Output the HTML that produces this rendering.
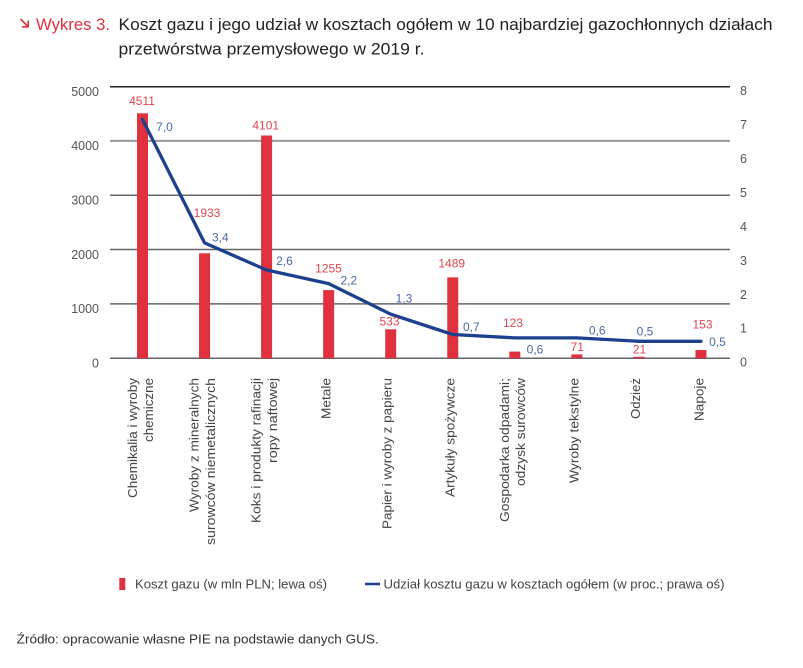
<!DOCTYPE html>
<html><head><meta charset="utf-8"><style>
html,body{margin:0;padding:0;background:#fff;}
svg{display:block;font-family:"Liberation Sans",sans-serif;}
</style></head><body>
<svg width="803" height="668" viewBox="0 0 803 668" xmlns="http://www.w3.org/2000/svg">
<!-- Title -->
<g stroke="#e0313f" stroke-width="1.6" fill="none" stroke-linecap="round" stroke-linejoin="round">
<line x1="21" y1="19.5" x2="28" y2="26.5"/><polyline points="22.5,26.8 28.2,26.8 28.2,21"/>
</g>
<text x="36" y="30" font-size="16.5" fill="#e0313f" textLength="74" lengthAdjust="spacingAndGlyphs">Wykres 3.</text>
<text x="118.5" y="30" font-size="16.5" fill="#222" textLength="654" lengthAdjust="spacingAndGlyphs">Koszt gazu i jego udział w kosztach ogółem w 10 najbardziej gazochłonnych działach</text>
<text x="118.5" y="54.5" font-size="16.5" fill="#222" textLength="306" lengthAdjust="spacingAndGlyphs">przetwórstwa przemysłowego w 2019 r.</text>

<!-- Gridlines -->
<g stroke-width="1.5">
<line x1="110" y1="86.7" x2="730" y2="86.7" stroke="#222"/>
<line x1="110" y1="140.9" x2="730" y2="140.9" stroke="#999" stroke-width="2"/>
<line x1="110" y1="195.2" x2="730" y2="195.2" stroke="#666"/>
<line x1="110" y1="249.5" x2="730" y2="249.5" stroke="#666"/>
<line x1="110" y1="303.9" x2="730" y2="303.9" stroke="#666"/>
<line x1="110" y1="358.3" x2="730" y2="358.3" stroke="#666"/>
</g>

<!-- Left axis labels -->
<g font-size="12.5" fill="#555" text-anchor="end">
<text x="99" y="96">5000</text>
<text x="99" y="150.2">4000</text>
<text x="99" y="204.5">3000</text>
<text x="99" y="258.8">2000</text>
<text x="99" y="313.2">1000</text>
<text x="99" y="367.6">0</text>
</g>
<!-- Right axis labels -->
<g font-size="12.5" fill="#555">
<text x="740" y="95">8</text>
<text x="740" y="129">7</text>
<text x="740" y="163">6</text>
<text x="740" y="196.9">5</text>
<text x="740" y="230.8">4</text>
<text x="740" y="264.8">3</text>
<text x="740" y="298.8">2</text>
<text x="740" y="332.7">1</text>
<text x="740" y="366.7">0</text>
</g>

<!-- Bars -->
<g fill="#e0313f">
<rect x="137" y="113.3" width="11" height="245"/>
<rect x="199.05" y="253.3" width="11" height="105"/>
<rect x="261.1" y="135.5" width="11" height="222.8"/>
<rect x="323.15" y="290.1" width="11" height="68.2"/>
<rect x="385.2" y="329.3" width="11" height="29"/>
<rect x="447.25" y="277.4" width="11" height="80.9"/>
<rect x="509.3" y="351.6" width="11" height="6.7"/>
<rect x="571.35" y="354.4" width="11" height="3.9"/>
<rect x="633.4" y="356.8" width="11" height="1.5"/>
<rect x="695.45" y="350" width="11" height="8.3"/>
</g>

<!-- Line -->
<polyline fill="none" stroke="#1c3f8e" stroke-width="3.3" stroke-linejoin="round" stroke-linecap="round"
points="142.5,119.5 204.55,242.9 266.6,270.0 328.65,283.6 390.7,314.2 452.75,334.5 514.8,337.9 576.85,337.9 638.9,341.3 700.95,341.3"/>

<!-- Data labels (bars) -->
<g font-size="12" fill="#e0444f" text-anchor="middle">
<text x="142" y="105">4511</text>
<text x="265.7" y="129.3">4101</text>
<text x="207" y="217">1933</text>
<text x="328.5" y="272.6">1255</text>
<text x="389.5" y="325.3">533</text>
<text x="451.7" y="267.6">1489</text>
<text x="513" y="327">123</text>
<text x="577.2" y="351">71</text>
<text x="639.5" y="353.6">21</text>
<text x="702.5" y="328.6">153</text>
</g>
<!-- Data labels (line) -->
<g font-size="12" fill="#4a68a6" text-anchor="middle">
<text x="164.5" y="131">7,0</text>
<text x="220.3" y="241.6">3,4</text>
<text x="284.5" y="265">2,6</text>
<text x="348.8" y="284.3">2,2</text>
<text x="404" y="302.6">1,3</text>
<text x="471.3" y="331">0,7</text>
<text x="535" y="353.3">0,6</text>
<text x="597.2" y="334.3">0,6</text>
<text x="645" y="335.3">0,5</text>
<text x="717.5" y="346">0,5</text>
</g>

<!-- Category labels (rotated) -->
<g font-size="13" fill="#444" text-anchor="end" lengthAdjust="spacingAndGlyphs">
<text transform="translate(137,378) rotate(-90)" textLength="120" lengthAdjust="spacingAndGlyphs">Chemikalia i wyroby</text>
<text transform="translate(153,378) rotate(-90)" textLength="64" lengthAdjust="spacingAndGlyphs">chemiczne</text>

<text transform="translate(198.5,378) rotate(-90)" textLength="134" lengthAdjust="spacingAndGlyphs">Wyroby z mineralnych</text>
<text transform="translate(215,378) rotate(-90)" textLength="167" lengthAdjust="spacingAndGlyphs">surowców niemetalicznych</text>

<text transform="translate(260.6,378) rotate(-90)" textLength="145" lengthAdjust="spacingAndGlyphs">Koks i produkty rafinacji</text>
<text transform="translate(277,378) rotate(-90)" textLength="85" lengthAdjust="spacingAndGlyphs">ropy naftowej</text>

<text transform="translate(330.5,378) rotate(-90)" textLength="41" lengthAdjust="spacingAndGlyphs">Metale</text>

<text transform="translate(391.5,378) rotate(-90)" textLength="151" lengthAdjust="spacingAndGlyphs">Papier i wyroby z papieru</text>

<text transform="translate(454.5,378) rotate(-90)" textLength="119" lengthAdjust="spacingAndGlyphs">Artykuły spożywcze</text>

<text transform="translate(509,378) rotate(-90)" textLength="144" lengthAdjust="spacingAndGlyphs">Gospodarka odpadami;</text>
<text transform="translate(525,378) rotate(-90)" textLength="108" lengthAdjust="spacingAndGlyphs">odzysk surowców</text>

<text transform="translate(578.3,378) rotate(-90)" textLength="105" lengthAdjust="spacingAndGlyphs">Wyroby tekstylne</text>

<text transform="translate(640,378) rotate(-90)" textLength="41" lengthAdjust="spacingAndGlyphs">Odzież</text>

<text transform="translate(703.3,378) rotate(-90)" textLength="43" lengthAdjust="spacingAndGlyphs">Napoje</text>
</g>

<!-- Legend -->
<rect x="119.3" y="578" width="6" height="12" fill="#e0313f"/>
<text x="135" y="588.5" font-size="13" fill="#444" textLength="192" lengthAdjust="spacingAndGlyphs">Koszt gazu (w mln PLN; lewa oś)</text>
<line x1="365" y1="584" x2="380" y2="584" stroke="#1c3f8e" stroke-width="2.5"/>
<text x="383.5" y="588.5" font-size="13" fill="#444" textLength="341" lengthAdjust="spacingAndGlyphs">Udział kosztu gazu w kosztach ogółem (w proc.; prawa oś)</text>

<!-- Source -->
<text x="16.7" y="643.5" font-size="13" fill="#333" textLength="362" lengthAdjust="spacingAndGlyphs">Źródło: opracowanie własne PIE na podstawie danych GUS.</text>
</svg>
</body></html>
